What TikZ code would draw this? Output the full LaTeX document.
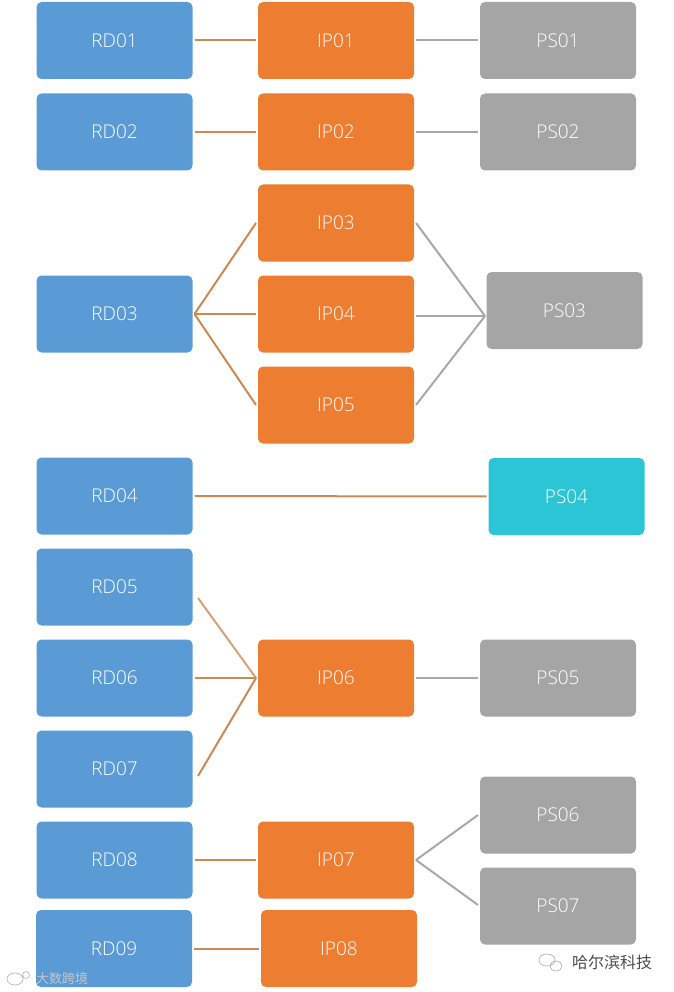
\documentclass[tikz,border=0pt]{standalone}
\usepackage{fontspec}
\setmainfont{Open Sans Light}[BoldFont={Open Sans}]
\newfontfamily\cjk{Noto Sans CJK SC}
\definecolor{rdblue}{HTML}{5B9BD5}
\definecolor{iporange}{HTML}{ED7D31}
\definecolor{psgray}{HTML}{A5A5A5}
\definecolor{psteal}{HTML}{2CC5D5}
\definecolor{linktan}{HTML}{CC8A52}
\definecolor{linkgray}{HTML}{A8A8AC}
\tikzset{
    box/.style={rounded corners=5pt, minimum width=156pt, minimum height=77pt, inner sep=0pt, outer sep=2pt, font=\fontsize{19}{19}\selectfont},
    rd/.style={box, fill=rdblue, text=white},
    ip/.style={box, fill=iporange, text=white},
    ps/.style={box, fill=psgray, text=white},
    tanlink/.style={linktan, line width=2pt},
    graylink/.style={linkgray, line width=2pt}
}

\begin{document}
\begin{tikzpicture}[x=1pt, y=-1pt]
    \useasboundingbox (0,0) rectangle (673,992);

    % left column
    \node (rd01) [rd] at (114.5,40.5) {RD01};
    \node (rd02) [rd] at (114.5,132) {RD02};
    \node (rd03) [rd] at (114.5,314) {RD03};
    \node (rd04) [rd] at (114.5,496) {RD04};
    \node (rd05) [rd] at (114.5,587) {RD05};
    \node (rd06) [rd] at (114.5,678) {RD06};
    \node (rd07) [rd] at (114.5,769) {RD07};
    \node (rd08) [rd] at (114.5,860) {RD08};
    \node (rd09) [rd] at (114,948.5) {RD09};

    % middle column
    \node (ip01) [ip] at (336,40.5) {IP01};
    \node (ip02) [ip] at (336,132) {IP02};
    \node (ip03) [ip] at (336,223) {IP03};
    \node (ip04) [ip] at (336,314) {IP04};
    \node (ip05) [ip] at (336,405) {IP05};
    \node (ip06) [ip] at (336,678) {IP06};
    \node (ip07) [ip] at (336,860) {IP07};
    \node (ip08) [ip] at (339,948.5) {IP08};

    % right column
    \node (ps01) [ps] at (558,40.5) {PS01};
    \node (ps02) [ps] at (558,132) {PS02};
    \node (ps03) [ps] at (564.5,310.5) {PS03};
    \node (ps04) [ps, fill=psteal] at (566.5,496.5) {PS04};
    \node (ps05) [ps] at (558,678) {PS05};
    \node (ps06) [ps] at (558,815) {PS06};
    \node (ps07) [ps] at (558,906) {PS07};

    \coordinate (ps03in) at (485,316);
    \coordinate (rd05out) at (198,598);
    \coordinate (rd07out) at (198,776);
    \coordinate (ps06in) at (478,815);
    \coordinate (ps07in) at (478,905);

    \draw [tanlink] (rd01) -- (ip01);
    \draw [tanlink] (rd02) -- (ip02);
    \draw [tanlink] (rd03.east) -- (ip03.west);
    \draw [tanlink] (rd03.east) -- (ip04.west);
    \draw [tanlink] (rd03.east) -- (ip05.west);
    \draw [tanlink] (rd04) -- (ps04);
    \draw [tanlink, opacity=0.8] (rd05out) -- (ip06.west);
    \draw [tanlink] (rd06) -- (ip06);
    \draw [tanlink] (rd07out) -- (ip06.west);
    \draw [tanlink] (rd08) -- (ip07);
    \draw [tanlink] (rd09.east) -- (ip08.west);

    \draw [graylink] (ip01) -- (ps01);
    \draw [graylink] (ip02) -- (ps02);
    \draw [graylink] (ip03.east) -- (ps03in);
    \draw [graylink] (ip04.east |- ps03in) -- (ps03in);
    \draw [graylink] (ip05.east) -- (ps03in);
    \draw [graylink] (ip06) -- (ps05);
    \draw [graylink] (ip07.east) -- (ps06in);
    \draw [graylink] (ip07.east) -- (ps07in);

    % watermarks
    \node (mark1) [text=gray!45, font=\cjk\fontsize{13}{13}\selectfont, inner sep=0pt] at (62,979) {大数跨境};
    \node (mark2) [text=black!70, font=\cjk\fontsize{16}{16}\selectfont, inner sep=0pt] at (612,962) {哈尔滨科技};
    \draw [gray!50, line width=0.8pt] (15,979) ellipse (8pt and 6pt) (26,975) circle (3.5pt);
    \draw [gray!70, line width=0.6pt] (547,960) ellipse (8pt and 6pt) (556,966) ellipse (6pt and 5pt);
\end{tikzpicture}
\end{document}
